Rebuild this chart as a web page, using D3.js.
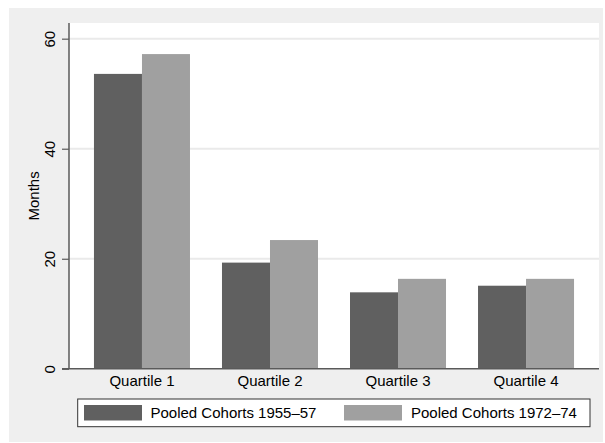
<!DOCTYPE html>
<html>
<head>
<meta charset="utf-8">
<script src="https://cdn.jsdelivr.net/npm/d3@7"></script>
<style>
  html, body { margin: 0; padding: 0; background: #ffffff; }
  svg { display: block; }
  text { font-family: "Liberation Sans", Arial, Helvetica, sans-serif; fill: #000; }
</style>
</head>
<body>
<svg id="chart" width="605" height="443"></svg>
<script>
// Months by quartile, two pooled birth cohorts
const categories = ["Quartile 1", "Quartile 2", "Quartile 3", "Quartile 4"];
const seriesNames = ["Pooled Cohorts 1955\u201357", "Pooled Cohorts 1972\u201374"];
const cohort1955 = [53.6, 19.3, 13.9, 15.1];
const cohort1972 = [57.2, 23.4, 16.35, 16.35];
const yTicks = [0, 20, 40, 60];
const yLabel = "Months";

const seriesValues = [cohort1955, cohort1972];
const colors = ["#606060", "#a0a0a0"];

const svg = d3.select("#chart");

// outer graph region
svg.append("rect")
  .attr("x", 9).attr("y", 8)
  .attr("width", 594).attr("height", 434)
  .attr("fill", "#efefef");

const plot = { left: 69, right: 599, top: 23, bottom: 368.8 };

svg.append("rect")
  .attr("x", plot.left).attr("y", plot.top)
  .attr("width", plot.right - plot.left).attr("height", plot.bottom - plot.top)
  .attr("fill", "#ffffff");

const y = d3.scaleLinear()
  .domain([0, 62.85])
  .range([plot.bottom, plot.top]);

const x0 = d3.scaleBand()
  .domain(categories)
  .range([plot.left, plot.right])
  .paddingInner(0.25)
  .paddingOuter(0.195);

const x1 = d3.scaleBand()
  .domain(d3.range(seriesNames.length))
  .range([0, x0.bandwidth()])
  .padding(0);

// horizontal grid lines
svg.append("g")
  .selectAll("line")
  .data(yTicks.filter(t => t > 0))
  .join("line")
  .attr("x1", plot.left).attr("x2", plot.right)
  .attr("y1", d => y(d)).attr("y2", d => y(d))
  .attr("stroke", "#eaeaea")
  .attr("stroke-width", 2);

// bars
const groups = svg.append("g")
  .selectAll("g")
  .data(categories)
  .join("g")
  .attr("transform", d => `translate(${x0(d)},0)`);

groups.selectAll("rect")
  .data((d, i) => seriesValues.map((vals, s) => ({ s, v: vals[i] })))
  .join("rect")
  .attr("x", d => x1(d.s))
  .attr("width", x1.bandwidth())
  .attr("y", d => y(d.v))
  .attr("height", d => y(0) - y(d.v))
  .attr("fill", d => colors[d.s]);

// y axis
const yAxis = svg.append("g")
  .attr("transform", `translate(${plot.left},0)`)
  .call(d3.axisLeft(y).tickValues(yTicks).tickSize(7).tickPadding(0).tickSizeOuter(0));
yAxis.select(".domain").remove();
yAxis.append("line")
  .attr("x1", 0).attr("x2", 0)
  .attr("y1", plot.top).attr("y2", plot.bottom)
  .attr("stroke", "#5a5a5a").attr("stroke-width", 1.5);
yAxis.selectAll(".tick line").attr("stroke", "#5a5a5a").attr("stroke-width", 1.2);
yAxis.selectAll(".tick text")
  .attr("font-size", 15)
  .attr("transform", "rotate(-90)")
  .attr("x", 0).attr("y", -14)
  .attr("dy", 0)
  .attr("text-anchor", "middle")
  .style("font-family", "'Liberation Sans', Arial, sans-serif")
  .attr("fill", "#000");

// x axis
const xAxis = svg.append("g")
  .attr("transform", `translate(0,${plot.bottom})`)
  .call(d3.axisBottom(x0).tickSize(0).tickPadding(0).tickSizeOuter(0));
xAxis.select(".domain").remove();
xAxis.append("line")
  .attr("x1", plot.left - 7).attr("x2", plot.right)
  .attr("y1", 0).attr("y2", 0)
  .attr("stroke", "#5a5a5a").attr("stroke-width", 1.5);
xAxis.selectAll(".tick text")
  .attr("font-size", 15)
  .attr("y", 17.5).attr("dy", 0)
  .style("font-family", "'Liberation Sans', Arial, sans-serif")
  .attr("fill", "#000");

// axis title
svg.append("text")
  .attr("transform", `translate(39,${(plot.top + plot.bottom) / 2}) rotate(-90)`)
  .attr("text-anchor", "middle")
  .attr("font-size", 15)
  .text(yLabel);

// legend
const legend = svg.append("g");
legend.append("rect")
  .attr("x", 77.7).attr("y", 399)
  .attr("width", 512.3).attr("height", 27.7)
  .attr("fill", "#ffffff")
  .attr("stroke", "#333333").attr("stroke-width", 1);

const legendItems = [
  { sx: 84, tx: 150.5 },
  { sx: 344, tx: 411 }
];
legend.selectAll("g.item")
  .data(seriesNames)
  .join("g")
  .attr("class", "item")
  .each(function (name, i) {
    const g = d3.select(this);
    g.append("rect")
      .attr("x", legendItems[i].sx).attr("y", 405)
      .attr("width", 58).attr("height", 15.5)
      .attr("fill", colors[i]);
    g.append("text")
      .attr("x", legendItems[i].tx).attr("y", 418)
      .attr("font-size", 15)
      .text(name);
  });
</script>
</body>
</html>
